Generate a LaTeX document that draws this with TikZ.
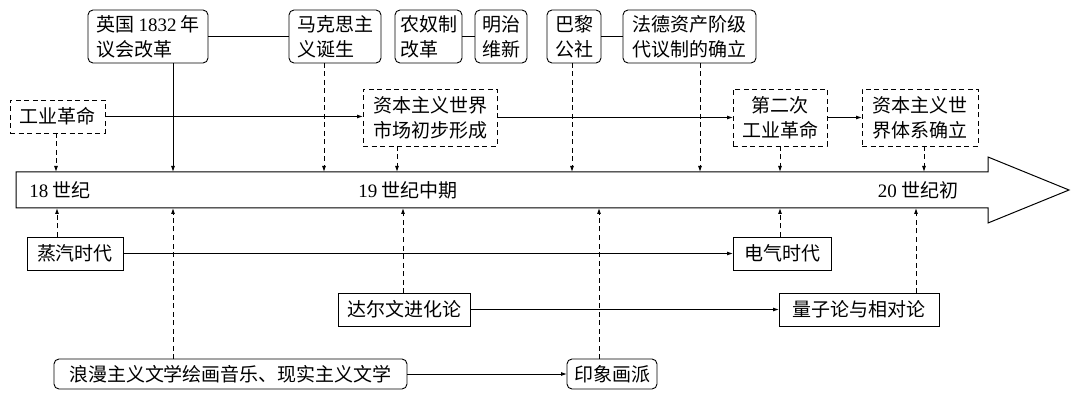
\documentclass[tikz,border=0pt]{standalone}
\usepackage{fontspec}
\newfontfamily\cjk{Noto Sans CJK SC}
\newfontfamily\dig{Liberation Serif}
\newcommand{\dg}[1]{{\dig #1}}
\usetikzlibrary{arrows.meta}
\begin{document}
\begin{tikzpicture}[x=1pt,y=-1pt,
  every node/.style={font=\cjk\fontsize{19}{25}\selectfont, inner sep=1pt, outer sep=0pt},
  rbox/.style={draw, rounded corners=5pt, line width=0.9pt, align=left},
  dbox/.style={draw, dashed, dash pattern=on 5pt off 3.5pt, line width=0.9pt, align=center},
  sbox/.style={draw, line width=0.9pt, align=center},
  link/.style={line width=0.9pt},
  arr/.style={line width=0.9pt, -{Latex[length=6pt,width=4pt]}},
  darr/.style={line width=0.9pt, dash pattern=on 5pt off 3.5pt, -{Latex[length=6pt,width=4pt]}},
  lab/.style={font=\cjk\fontsize{19}{25}\selectfont}
]
\useasboundingbox (0,0) rectangle (1080,401);
% big timeline arrow
\draw[line width=1pt] (16,172) -- (988,172) -- (988,157) -- (1069,190) -- (988,223) -- (988,208) -- (16,208) -- cycle;
\coordinate (axt) at (0,172);
\coordinate (axb) at (0,208);
\node[lab] (t18) at (60,190) {\dg{18} 世纪};
\node[lab] (t19) at (408,190) {\dg{19} 世纪中期};
\node[lab] (t20) at (918,190) {\dg{20} 世纪初};

% top row
\node[rbox, minimum width=120, minimum height=53] (en) at (148,36.5) {英国 \dg{1832} 年\\议会改革};
\node[rbox, minimum width=92, minimum height=53] (marx) at (335,36.5) {马克思主\\义诞生};
\node[rbox, minimum width=67, minimum height=53] (nn) at (428.5,36.5) {农奴制\\改革};
\node[rbox, minimum width=52, minimum height=53] (mz) at (501,36.5) {明治\\维新};
\node[rbox, minimum width=54, minimum height=53] (bl) at (574,36.5) {巴黎\\公社};
\node[rbox, minimum width=133, minimum height=53] (fd) at (689.5,36.5) {法德资产阶级\\代议制的确立};
\draw[link] (en.east) -- (marx.west);
\draw[link] (nn.east) -- (mz.west);
\draw[link] (bl.east) -- (fd.west);

% middle row
\node[dbox, minimum width=95, minimum height=33] (gy) at (57.5,116.5) {工业革命};
\node[dbox, minimum width=134, minimum height=57] (sc) at (430,117.5) {资本主义世界\\市场初步形成};
\node[dbox, minimum width=94, minimum height=57] (der) at (780,117.5) {第二次\\工业革命};
\node[dbox, minimum width=116, minimum height=57] (tx) at (920,117.5) {资本主义世\\界体系确立};
\draw[arr] (gy.east) -- (gy.east -| sc.west);
\draw[arr] (sc.east) -- (der.west);
\draw[arr] (der.east) -- (tx.west);

% down arrows to the axis
\coordinate (d1) at (56,172);
\coordinate (d2) at (173,172);
\coordinate (d3) at (324,172);
\coordinate (d4) at (397,172);
\coordinate (d5) at (572,172);
\coordinate (d6) at (700,172);
\coordinate (d7) at (780,172);
\coordinate (d8) at (924,172);
\draw[darr] (gy.south -| d1) -- (d1);
\draw[arr] (en.south -| d2) -- (d2);
\draw[darr] (marx.south -| d3) -- (d3);
\draw[darr] (sc.south -| d4) -- (d4);
\draw[darr] (bl.south -| d5) -- (d5);
\draw[darr] (fd.south -| d6) -- (d6);
\draw[darr] (der.south -| d7) -- (d7);
\draw[darr] (tx.south -| d8) -- (d8);

% bottom rows
\node[sbox, minimum width=96, minimum height=33] (zq) at (75,253.5) {蒸汽时代};
\node[sbox, minimum width=98, minimum height=33] (dq) at (782,253.5) {电气时代};
\node[sbox, minimum width=132, minimum height=33] (de) at (404,309.5) {达尔文进化论};
\node[sbox, minimum width=160, minimum height=33] (lz) at (859,309.5) {量子论与相对论};
\node[rbox, align=center, minimum width=353, minimum height=30] (lm) at (230.5,374) {浪漫主义文学绘画音乐、现实主义文学};
\node[rbox, align=center, minimum width=90, minimum height=30] (yx) at (612,374) {印象画派};
\draw[arr] (zq.east) -- (dq.west);
\draw[arr] (de.east) -- (lz.west);
\draw[arr] (lm.east) -- (yx.west);

% up arrows to the axis
\coordinate (u1) at (57,208);
\coordinate (u2) at (173,208);
\coordinate (u3) at (403,208);
\coordinate (u4) at (599,208);
\coordinate (u5) at (780,208);
\coordinate (u6) at (916,208);
\draw[darr] (zq.north -| u1) -- (u1);
\draw[darr] (lm.north -| u2) -- (u2);
\draw[darr] (de.north -| u3) -- (u3);
\draw[darr] (yx.north -| u4) -- (u4);
\draw[darr] (dq.north -| u5) -- (u5);
\draw[darr] (lz.north -| u6) -- (u6);
\end{tikzpicture}
\end{document}
